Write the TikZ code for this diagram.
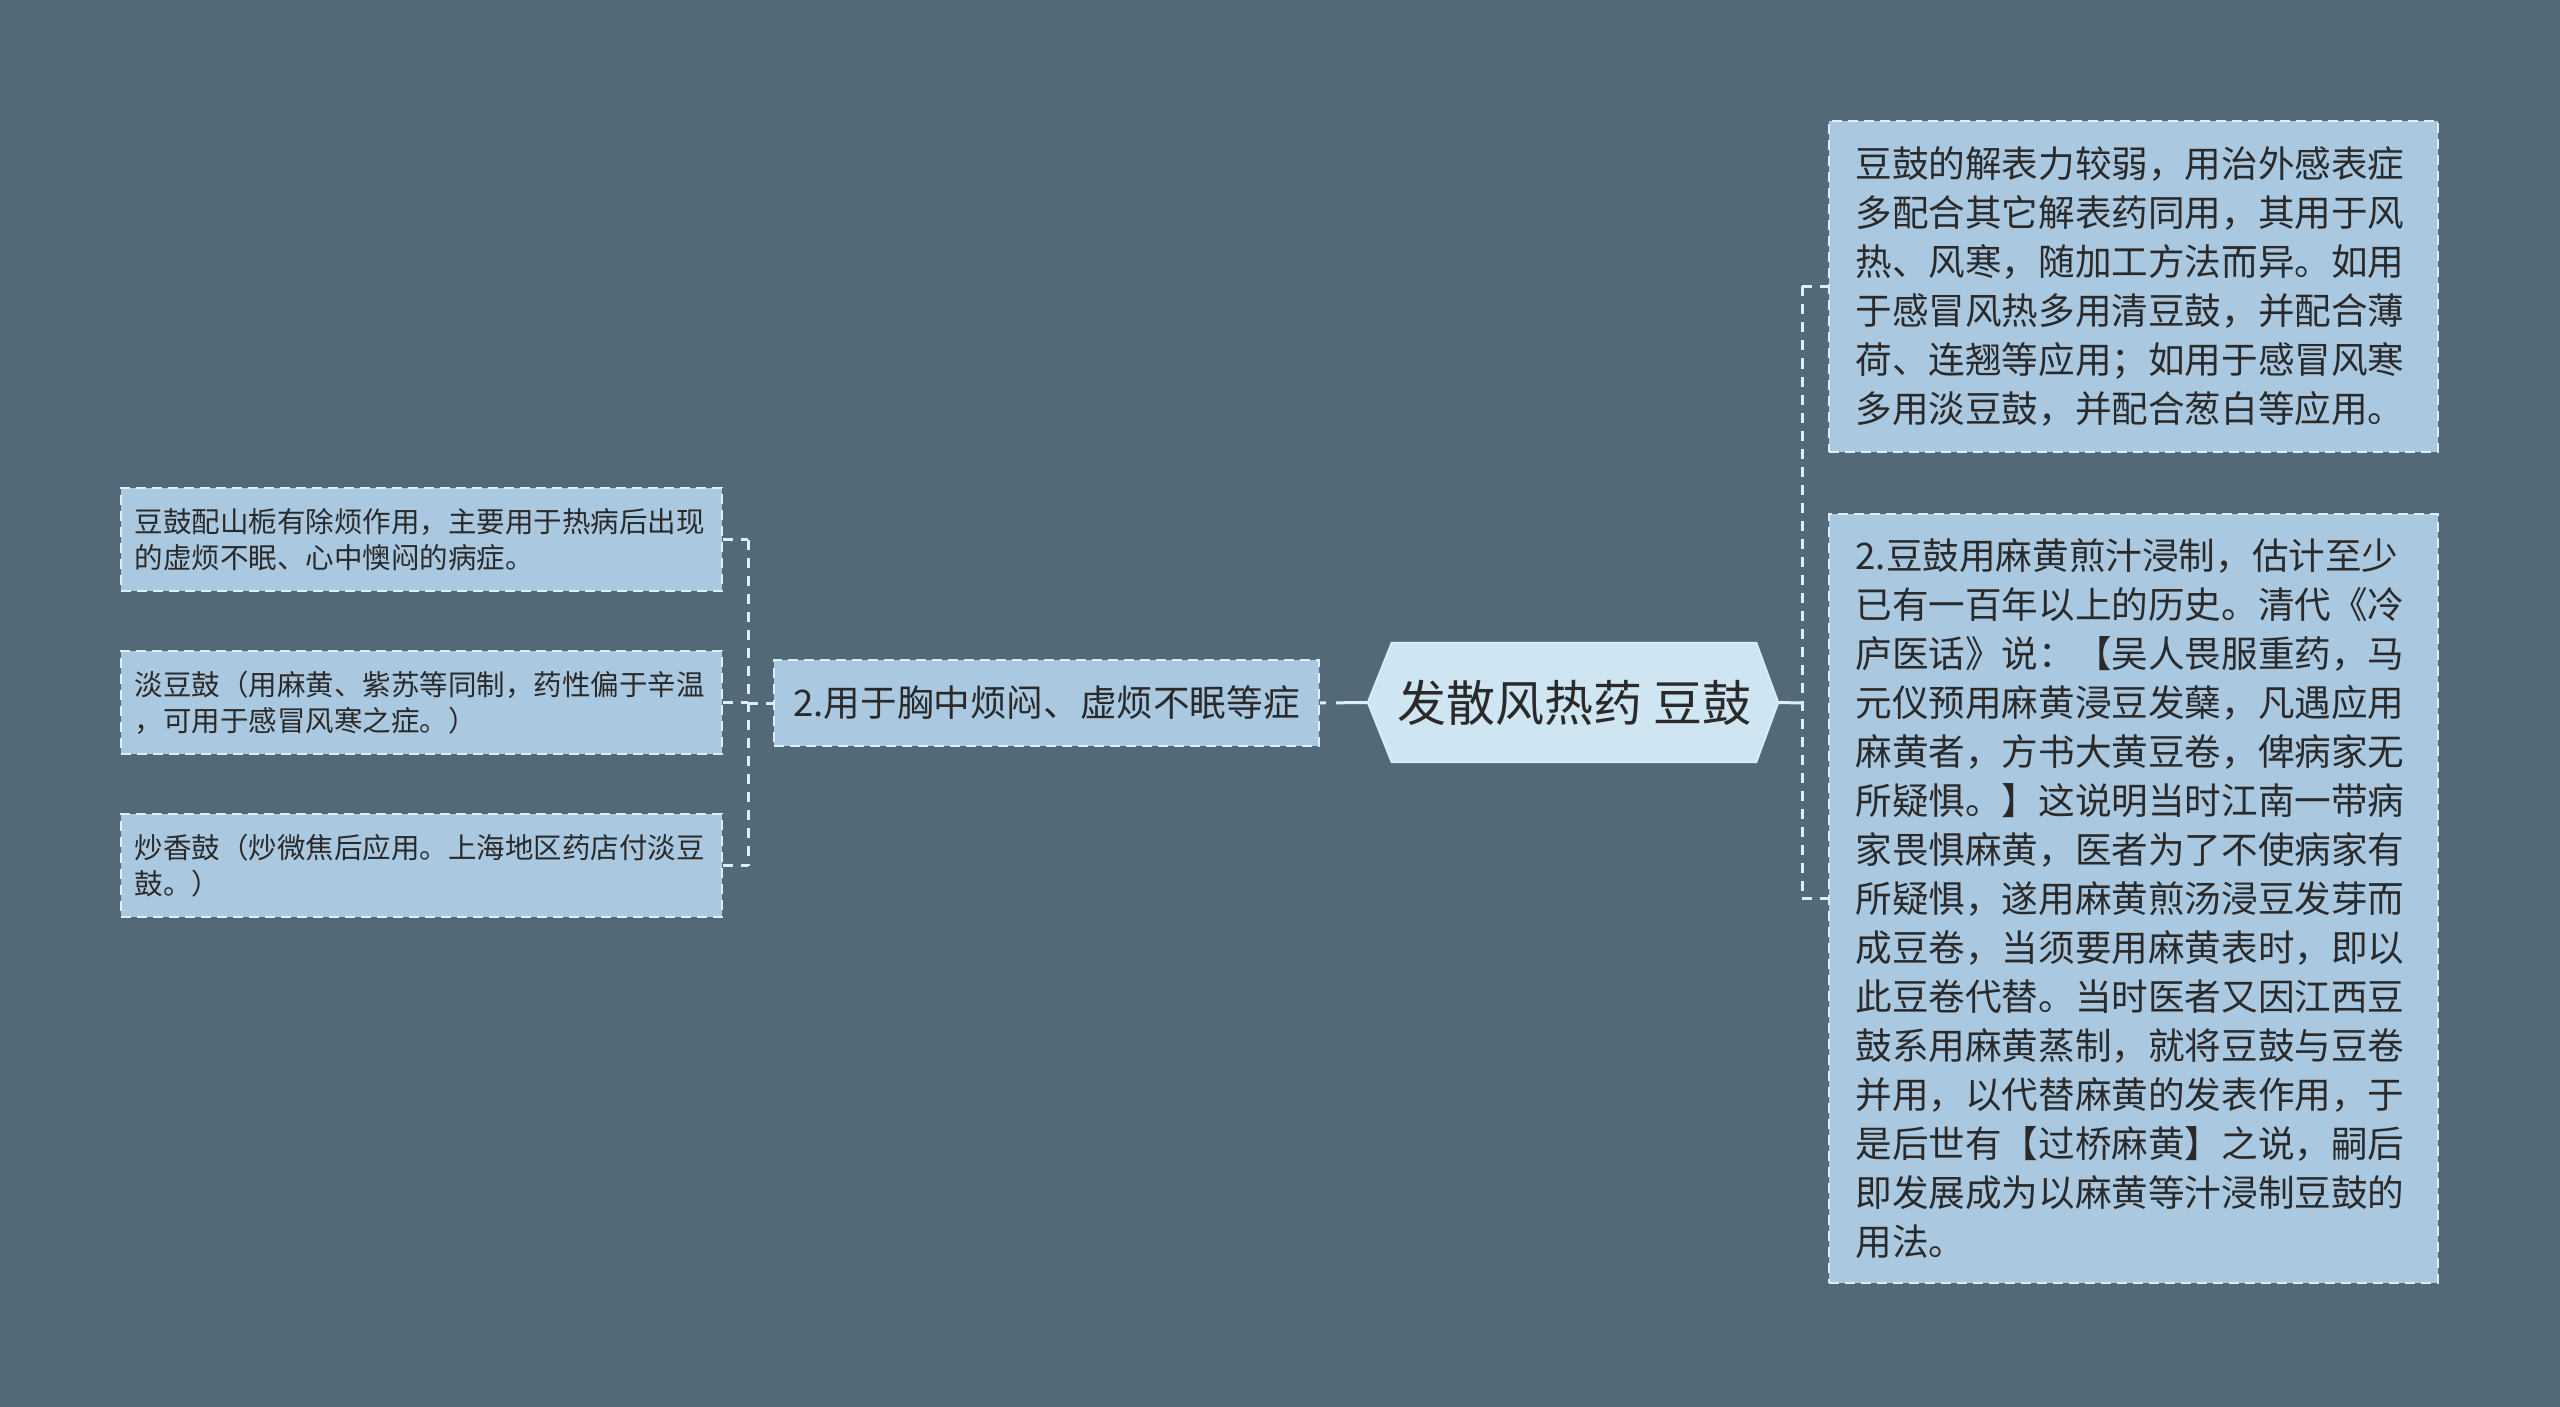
\documentclass[tikz,border=0pt]{standalone}
\usepackage{fontspec}
\setmainfont{Noto Sans CJK SC}
\usetikzlibrary{calc,backgrounds}
\definecolor{bgc}{HTML}{546978}
\definecolor{boxfill}{HTML}{AAC9E1}
\definecolor{rootfill}{HTML}{CFE5F2}
\definecolor{edgec}{HTML}{DCEFF9}
\definecolor{txt}{HTML}{2A2A2A}
\begin{document}
\begin{tikzpicture}[x=0.5pt,y=-0.5pt,
  box/.style={draw=edgec, line width=1pt, dash pattern=on 5pt off 3pt, fill=boxfill,
    inner sep=0pt, text=txt, align=left, anchor=center},
  bigbox/.style={box, font=\fontsize{18.3pt}{24.5pt}\selectfont, text width=278pt, minimum width=304.5pt},
  smallbox/.style={box, font=\fontsize{14.25pt}{18pt}\selectfont, text width=287pt, minimum width=300.5pt, minimum height=51.5pt},
  midbox/.style={box, font=\fontsize{18.3pt}{24.5pt}\selectfont, minimum width=272.5pt, minimum height=43pt, align=center},
  rootnode/.style={inner sep=0pt, text=txt, font=\fontsize{24.5pt}{28pt}\selectfont, minimum width=182pt, minimum height=59.5pt},
  vdash/.style={draw=edgec, line width=1.5pt, dash pattern=on 5pt off 4pt},
  conn/.style={draw=edgec, line width=1.5pt}
]
% root
\node[rootnode] (root) at (1574,702.5) {发散风热药 豆鼓};
\coordinate (ltip) at ($(root.west)+(-24,0)$);
\coordinate (rtip) at ($(root.east)+(22,0)$);
\begin{pgfonlayer}{background}
  \fill[bgc] (0,0) rectangle (2560,1407);
  \filldraw[fill=rootfill, draw=edgec, line width=0.8pt]
    (root.north west) -- (root.north east) -- (rtip) -- (root.south east)
    -- (root.south west) -- (ltip) -- cycle;
\end{pgfonlayer}

% right side
\node[bigbox, minimum height=165.5pt] (top) at (2133.5,286.5) {豆鼓的解表力较弱，用治外感表症\\多配合其它解表药同用，其用于风\\热、风寒，随加工方法而异。如用\\于感冒风热多用清豆鼓，并配合薄\\荷、连翘等应用；如用于感冒风寒\\多用淡豆鼓，并配合葱白等应用。};
\node[bigbox, minimum height=384.5pt] (bot) at (2133.5,898.5) {2.豆鼓用麻黄煎汁浸制，估计至少\\已有一百年以上的历史。清代《冷\\庐医话》说：【吴人畏服重药，马\\元仪预用麻黄浸豆发蘖，凡遇应用\\麻黄者，方书大黄豆卷，俾病家无\\所疑惧。】这说明当时江南一带病\\家畏惧麻黄，医者为了不使病家有\\所疑惧，遂用麻黄煎汤浸豆发芽而\\成豆卷，当须要用麻黄表时，即以\\此豆卷代替。当时医者又因江西豆\\鼓系用麻黄蒸制，就将豆鼓与豆卷\\并用，以代替麻黄的发表作用，于\\是后世有【过桥麻黄】之说，嗣后\\即发展成为以麻黄等汁浸制豆鼓的\\用法。};

% middle
\node[midbox] (mid) at (1046.5,703) {2.用于胸中烦闷、虚烦不眠等症};

% left
\node[smallbox] (L1) at (421.5,539.5) {豆鼓配山栀有除烦作用，主要用于热病后出现\\的虚烦不眠、心中懊闷的病症。};
\node[smallbox] (L2) at (421.5,702.5) {淡豆鼓（用麻黄、紫苏等同制，药性偏于辛温\\，可用于感冒风寒之症。）};
\node[smallbox] (L3) at (421.5,865.5) {炒香鼓（炒微焦后应用。上海地区药店付淡豆\\鼓。）};

% connectors right
\coordinate (rb) at (1802,703);
\draw[conn] (rtip) -- (rb);
\draw[vdash] (rb |- top.west) -- (rb |- bot.west);
\draw[vdash] (rb |- top.west) -- (top.west);
\draw[vdash] (rb |- bot.west) -- (bot.west);

% connectors middle
\draw[draw=edgec, line width=1.5pt, dash pattern=on 3pt off 5pt on 40pt off 0pt] (mid.east) -- (ltip);

% connectors left
\coordinate (lb) at (748,703);
\draw[vdash] (lb |- L1.east) -- (lb |- L3.east);
\draw[vdash] (L1.east) -- (lb |- L1.east);
\draw[vdash] (L2.east) -- (lb |- L2.east);
\draw[vdash] (L3.east) -- (lb |- L3.east);
\draw[vdash] (lb) -- (mid.west);
\end{tikzpicture}
\end{document}
